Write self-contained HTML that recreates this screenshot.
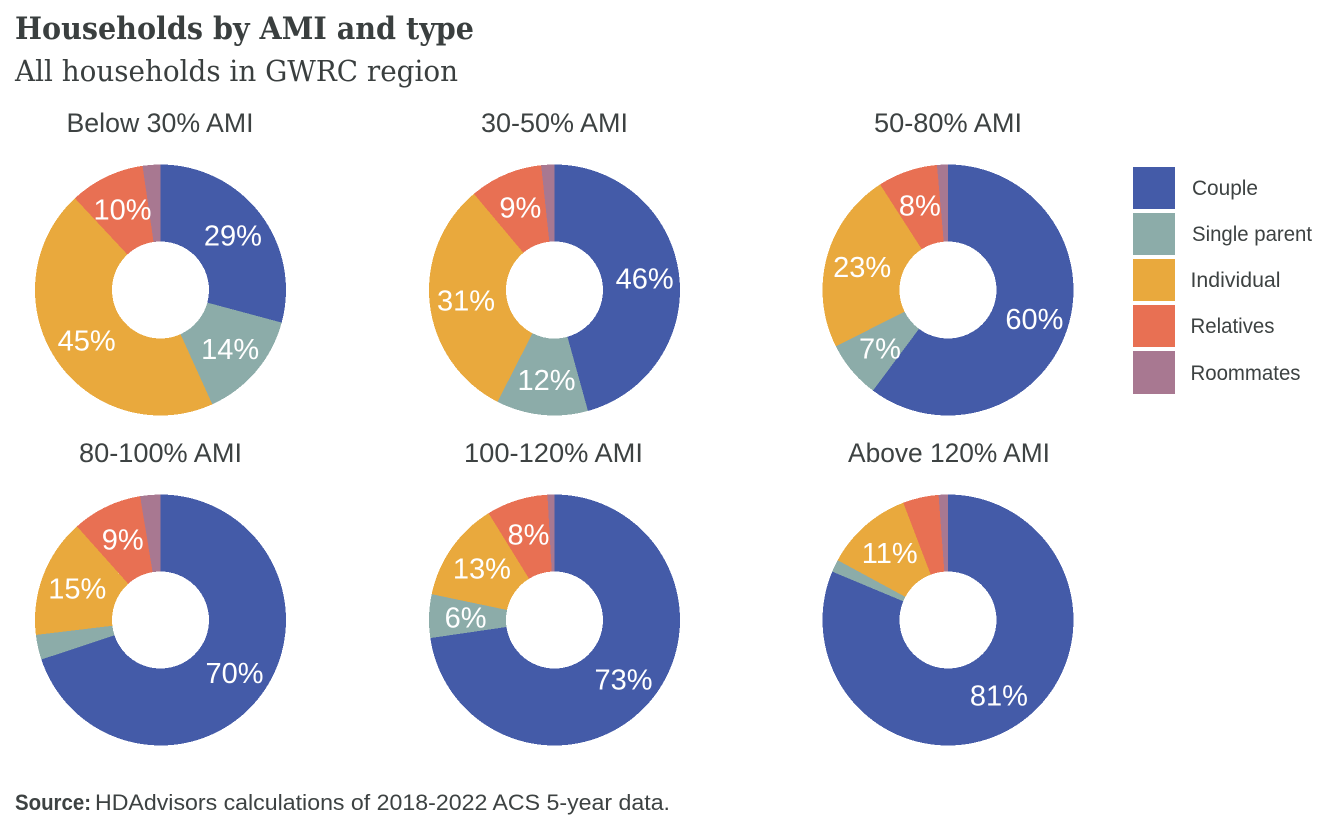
<!DOCTYPE html>
<html lang="en">
<head>
<meta charset="utf-8">
<title>Households by AMI and type</title>
<style>
html,body{margin:0;padding:0;background:#fff;width:1344px;height:830px;overflow:hidden}
svg{display:block}
.ft{font-family:"Liberation Sans",sans-serif;font-size:26.5px;fill:#3d4242;text-anchor:middle}
.lg{font-family:"Liberation Sans",sans-serif;font-size:21.5px;fill:#3d4242}
.pct{font-family:"Liberation Sans",sans-serif;font-size:29px;fill:#fff;text-anchor:middle}
</style>
</head>
<body>
<svg id="chart" xmlns="http://www.w3.org/2000/svg" width="1344" height="830" viewBox="0 0 1344 830">
  <text x="15" y="39" font-family="'DejaVu Serif',serif" font-weight="700" font-size="31" fill="#3a3f3f" textLength="459" lengthAdjust="spacingAndGlyphs">Households by AMI and type</text>
  <text x="15" y="81" font-family="'DejaVu Serif',serif" font-size="29" fill="#3a3f3f" textLength="443" lengthAdjust="spacingAndGlyphs">All households in GWRC region</text>

  <text class="ft" x="160" y="132" textLength="187" lengthAdjust="spacingAndGlyphs">Below 30% AMI</text>
  <text class="ft" x="554.5" y="132" textLength="147" lengthAdjust="spacingAndGlyphs">30-50% AMI</text>
  <text class="ft" x="948" y="132" textLength="148" lengthAdjust="spacingAndGlyphs">50-80% AMI</text>
  <text class="ft" x="160.5" y="462" textLength="163" lengthAdjust="spacingAndGlyphs">80-100% AMI</text>
  <text class="ft" x="553.5" y="462" textLength="179" lengthAdjust="spacingAndGlyphs">100-120% AMI</text>
  <text class="ft" x="949" y="462" textLength="202" lengthAdjust="spacingAndGlyphs">Above 120% AMI</text>

  <g id="pies"></g>

  <g>
    <g>
      <rect x="1133" y="167" width="42" height="42" fill="#445ba8"/>
      <text class="lg" x="1192" y="195" textLength="66" lengthAdjust="spacingAndGlyphs">Couple</text>
    </g>
    <g>
      <rect x="1133" y="213" width="42" height="42" fill="#8cacA9"/>
      <text class="lg" x="1192" y="241" textLength="120" lengthAdjust="spacingAndGlyphs">Single parent</text>
    </g>
    <g>
      <rect x="1133" y="259" width="42" height="42" fill="#e9a93d"/>
      <text class="lg" x="1190.500" y="287" textLength="90" lengthAdjust="spacingAndGlyphs">Individual</text>
    </g>
    <g>
      <rect x="1133" y="305" width="42" height="42" fill="#e87053"/>
      <text class="lg" x="1190.500" y="333" textLength="84" lengthAdjust="spacingAndGlyphs">Relatives</text>
    </g>
    <g>
      <rect x="1133" y="351" width="42" height="43" fill="#a87891"/>
      <text class="lg" x="1190.500" y="380" textLength="110" lengthAdjust="spacingAndGlyphs">Roommates</text>
    </g>
  </g>

  <text font-family="'Liberation Sans',sans-serif" font-size="22.5" fill="#3d4242" y="810"><tspan x="15" font-weight="700" textLength="76" lengthAdjust="spacingAndGlyphs">Source:</tspan><tspan x="95" textLength="575" lengthAdjust="spacingAndGlyphs">HDAdvisors calculations of 2018-2022 ACS 5-year data.</tspan></text>
</svg>
<script>
const panels = ['below-30', '30-50', '50-80', '80-100', '100-120', 'above-120'];
const categories = ['couple', 'single-parent', 'individual', 'relatives', 'roommates'];
const couple = [29.3, 45.7, 60.2, 69.9, 72.7, 81.3];
const singleParent = [14.1, 11.8, 7.4, 3.2, 5.6, 1.6];
const individual = [45.0, 31.4, 23.3, 15.3, 12.9, 11.3];
const relatives = [9.7, 9.4, 7.7, 9.0, 7.9, 4.6];
const roommates = [2.3, 1.7, 1.4, 2.6, 0.9, 1.2];
const seriesColors = ['#445ba8', '#8cacA9', '#e9a93d', '#e87053', '#a87891'];
const minLabelPercent = 5.5;

const SVG_NS = 'http://www.w3.org/2000/svg';
const OUTER_R = 125.5;
const INNER_R = 48.5;
const LABEL_R = 90;
const root = document.getElementById('pies');

function panelCenter(i) {
  const cx = [160.5, 554.5, 948][i % 3];
  const cy = i < 3 ? 290 : 620;
  return { cx: cx, cy: cy };
}
function angleScale(cum, total) {
  return (cum / total) * 2 * Math.PI;
}
function polar(c, r, a) {
  return [c.cx + r * Math.sin(a), c.cy - r * Math.cos(a)];
}
function wedgePath(c, a0, a1) {
  const large = a1 - a0 > Math.PI ? 1 : 0;
  const p0 = polar(c, OUTER_R, a0), p1 = polar(c, OUTER_R, a1);
  const p2 = polar(c, INNER_R, a1), p3 = polar(c, INNER_R, a0);
  return 'M' + p0[0] + ' ' + p0[1] +
    'A' + OUTER_R + ' ' + OUTER_R + ' 0 ' + large + ' 1 ' + p1[0] + ' ' + p1[1] +
    'L' + p2[0] + ' ' + p2[1] +
    'A' + INNER_R + ' ' + INNER_R + ' 0 ' + large + ' 0 ' + p3[0] + ' ' + p3[1] + 'Z';
}

panels.forEach(function (panel, i) {
  const values = [couple[i], singleParent[i], individual[i], relatives[i], roommates[i]];
  const total = values.reduce(function (a, b) { return a + b; }, 0);
  const c = panelCenter(i);
  const g = document.createElementNS(SVG_NS, 'g');
  
  
  root.appendChild(g);
  let cum = 0;
  const labelQueue = [];
  values.forEach(function (v, k) {
    const a0 = angleScale(cum, total);
    const a1 = angleScale(cum + v, total);
    cum += v;
    const path = document.createElementNS(SVG_NS, 'path');
    path.setAttribute('d', wedgePath(c, a0, a1));
    path.setAttribute('fill', seriesColors[k]);
    path.setAttribute('shape-rendering', 'crispEdges');
    
    
    g.appendChild(path);
    const share = v / total * 100;
    if (share >= minLabelPercent) {
      labelQueue.push({ k: k, share: share, mid: (a0 + a1) / 2 });
    }
  });
  labelQueue.forEach(function (l) {
    const p = polar(c, LABEL_R, l.mid);
    const t = document.createElementNS(SVG_NS, 'text');
    t.setAttribute('class', 'pct');
    t.setAttribute('x', p[0] + 1);
    t.setAttribute('y', p[1] + 10.5);
    
    
    t.textContent = Math.round(l.share) + '%';
    g.appendChild(t);
  });
});
</script>
</body>
</html>
